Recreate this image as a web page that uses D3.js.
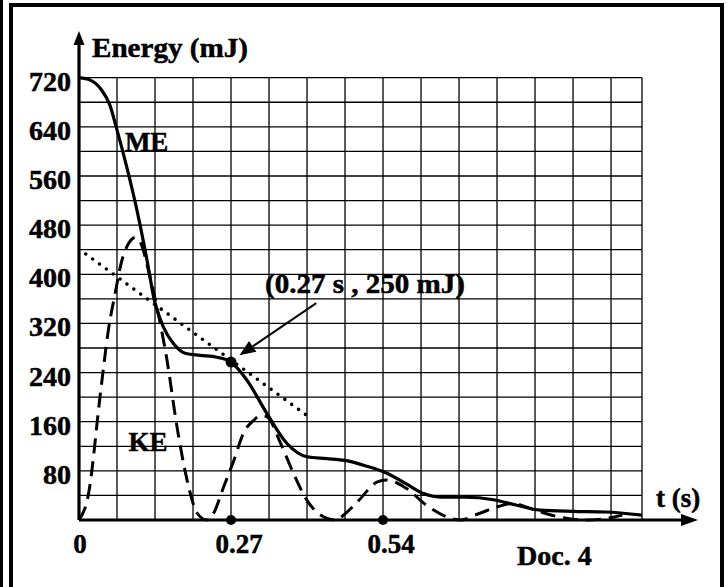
<!DOCTYPE html>
<html>
<head>
<meta charset="utf-8">
<script src="https://cdn.jsdelivr.net/npm/d3@7"></script>
<style>
  html, body { margin: 0; padding: 0; background: #fff; }
  svg text { font-family: "Liberation Serif", "Times New Roman", serif; font-weight: bold; fill: #000; stroke: #000; stroke-width: 0.5px; }
</style>
</head>
<body>
<svg id="chart"></svg>
<script>
// Data
const yTicks = [80, 160, 240, 320, 400, 480, 560, 640, 720];
const xTickLabels = [
    { t: 0, label: '0' },
    { t: 0.27, label: '0.27' },
    { t: 0.54, label: '0.54' }
];
const gridStepT = 0.0675;   // 0.27 / 4
const gridStepE = 40;

// mechanical energy ME (t in s, E in mJ)
const meT = [0, 0.02, 0.04, 0.055, 0.066, 0.085, 0.103, 0.121, 0.134, 0.15, 0.168, 0.19, 0.215, 0.245, 0.27, 0.298, 0.334, 0.369, 0.405, 0.44, 0.472, 0.513, 0.542, 0.579, 0.612, 0.645, 0.687, 0.736, 0.778, 0.819, 0.877, 0.935, 1.0];
const meE = [720, 716, 700, 675, 640, 574, 504, 422, 357, 314, 287, 271, 268, 265, 257, 228, 173, 125, 103, 100, 97, 87, 78, 60, 43, 37, 37, 33, 24, 16, 14, 13, 8];

// kinetic energy KE
const keT = [0, 0.017, 0.038, 0.053, 0.064, 0.076, 0.088, 0.1, 0.109, 0.125, 0.141, 0.156, 0.174, 0.192, 0.21, 0.227, 0.239, 0.257, 0.275, 0.292, 0.31, 0.322, 0.334, 0.358, 0.381, 0.405, 0.429, 0.455, 0.475, 0.497, 0.53, 0.546, 0.579, 0.62, 0.654, 0.678, 0.712, 0.745, 0.769, 0.81, 0.852, 0.9, 0.951, 0.965];
const keE = [0, 43, 206, 314, 368, 422, 450, 460, 452, 400, 335, 262, 152, 65, 11, 0, 11, 54, 97, 141, 162, 170, 168, 125, 76, 32, 8, 0, 12, 32, 62, 65, 53, 22, 5, 0, 11, 22, 27, 16, 5, 0, 5, 8];

// tangent to ME at t = 0.27 s
const tangentT = [0.012, 0.405];
const tangentE = [433, 170];

const markT = 0.27, markE = 257;
const axisDots = [0.27, 0.54];

const width = 727, height = 587;
const svg = d3.select("#chart").attr("width", width).attr("height", height);

const x = d3.scaleLinear().domain([0, 1]).range([79, 642]);
const y = d3.scaleLinear().domain([0, 720]).range([520, 77.7]);

// frame
svg.append("rect").attr("x", 0).attr("y", 0).attr("width", 3).attr("height", height).attr("fill", "#000");
svg.append("rect").attr("x", 9).attr("y", 3).attr("width", 4).attr("height", height).attr("fill", "#000");
svg.append("rect").attr("x", 9).attr("y", 3).attr("width", 715).attr("height", 4).attr("fill", "#000");
svg.append("rect").attr("x", 720).attr("y", 3).attr("width", 4).attr("height", height).attr("fill", "#000");

// grid
const grid = svg.append("g").attr("stroke", "#000").attr("stroke-width", 1.3);
const vLines = d3.range(0, 1, gridStepT).concat([1]);
grid.selectAll("line.v").data(vLines).enter().append("line")
    .attr("x1", d => x(d)).attr("x2", d => x(d))
    .attr("y1", y(0)).attr("y2", y(720));
const hLines = d3.range(0, 720 + 1, gridStepE);
grid.selectAll("line.h").data(hLines).enter().append("line")
    .attr("x1", x(0)).attr("x2", x(1))
    .attr("y1", d => y(d)).attr("y2", d => y(d));

// axes with arrows
svg.append("line").attr("x1", x(0)).attr("x2", 684).attr("y1", y(0)).attr("y2", y(0))
    .attr("stroke", "#000").attr("stroke-width", 3.2);
svg.append("path").attr("d", `M698,${y(0)} L681,${y(0) - 6} L681,${y(0) + 6} Z`).attr("fill", "#000");
svg.append("line").attr("x1", x(0)).attr("x2", x(0)).attr("y1", y(0)).attr("y2", 44)
    .attr("stroke", "#000").attr("stroke-width", 3.2);
svg.append("path").attr("d", `M${x(0)},31 L${x(0) - 5.5},45 L${x(0) + 5.5},45 Z`).attr("fill", "#000");

// tick labels
svg.selectAll("text.ytick").data(yTicks).enter().append("text")
    .attr("x", 71).attr("y", d => y(d) + 13)
    .attr("text-anchor", "end")
    .style("font-size", "28px")
    .text(d => d);
svg.selectAll("text.xtick").data(xTickLabels).enter().append("text")
    .attr("x", d => x(d.t) + (d.t === 0 ? 1 : 8)).attr("y", 553)
    .attr("text-anchor", "middle")
    .style("font-size", "27px")
    .text(d => d.label);

svg.append("text").attr("x", 92).attr("y", 57).style("font-size", "27px")
    .attr("textLength", 156).attr("lengthAdjust", "spacingAndGlyphs").text("Energy (mJ)");
svg.append("text").attr("x", 656).attr("y", 507).style("font-size", "27px").text("t (s)");
svg.append("text").attr("x", 517).attr("y", 565).style("font-size", "28px").text("Doc. 4");

// curves
const line = d3.line().x(d => x(d[0])).y(d => y(d[1])).curve(d3.curveMonotoneX);
const meData = meT.map((t, i) => [t, meE[i]]);
const keData = keT.map((t, i) => [t, keE[i]]);

svg.append("path").datum(keData).attr("d", line)
    .attr("fill", "none").attr("stroke", "#000").attr("stroke-width", 3)
    .attr("stroke-dasharray", "15,8");
svg.append("path").datum(meData).attr("d", line)
    .attr("fill", "none").attr("stroke", "#000").attr("stroke-width", 3.2);

// tangent (dotted)
svg.append("line")
    .attr("x1", x(tangentT[0])).attr("y1", y(tangentE[0]))
    .attr("x2", x(tangentT[1])).attr("y2", y(tangentE[1]))
    .attr("stroke", "#000").attr("stroke-width", 3.6)
    .attr("stroke-linecap", "round").attr("stroke-dasharray", "0,8.5");

// points
svg.append("circle").attr("cx", x(markT)).attr("cy", y(markE)).attr("r", 5.5).attr("fill", "#000");
svg.selectAll("circle.ax").data(axisDots).enter().append("circle")
    .attr("cx", d => x(d)).attr("cy", y(0)).attr("r", 5).attr("fill", "#000");

// curve labels
svg.append("text").attr("x", x(0.0815)).attr("y", y(600)).style("font-size", "27px").text("ME");
svg.append("text").attr("x", x(0.088)).attr("y", y(113)).style("font-size", "27px").text("KE");

// annotation with arrow
const arrFrom = [0.4215, 353], arrTo = [0.285, 268];
const ax1 = x(arrFrom[0]), ay1 = y(arrFrom[1]), ax2 = x(arrTo[0]), ay2 = y(arrTo[1]);
const ang = Math.atan2(ay2 - ay1, ax2 - ax1);
const headL = 16, headW = 6.5;
const bx = ax2 - headL * Math.cos(ang), by = ay2 - headL * Math.sin(ang);
svg.append("line").attr("x1", ax1).attr("y1", ay1).attr("x2", bx).attr("y2", by)
    .attr("stroke", "#000").attr("stroke-width", 2);
svg.append("path")
    .attr("d", `M${ax2},${ay2} L${bx + headW * Math.sin(ang)},${by - headW * Math.cos(ang)} L${bx - headW * Math.sin(ang)},${by + headW * Math.cos(ang)} Z`)
    .attr("fill", "#000");
svg.append("text").attr("x", 265).attr("y", 293).style("font-size", "27px")
    .attr("textLength", 200).attr("lengthAdjust", "spacingAndGlyphs")
    .text("(0.27 s , 250 mJ)");
</script>
</body>
</html>
